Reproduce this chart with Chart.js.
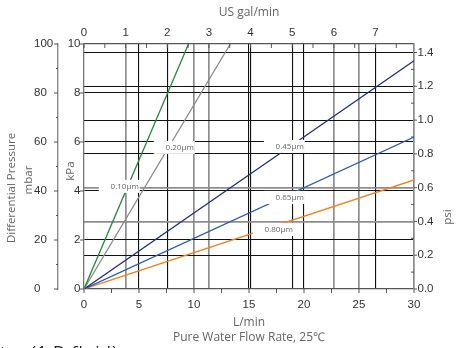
<!DOCTYPE html>
<html>
<head>
<meta charset="utf-8">
<script src="https://cdn.jsdelivr.net/npm/chart.js@4.4.1/dist/chart.umd.min.js"></script>
<style>
  html, body { margin: 0; padding: 0; background: #fff; overflow: hidden; }
  #wrap { position: relative; width: 457px; height: 348px; overflow: hidden; }
  #chart { display: block; }
  #note { position: absolute; left: 0; top: 342px; font: 17px "Open Sans", sans-serif; line-height: 20px; color: #222; white-space: nowrap; letter-spacing: 1px; }
</style>
</head>
<body>
<div id="wrap">
  <canvas id="chart" width="457" height="348"></canvas>
  <div id="note">ter (1 D fluid)</div>
</div>
<script>
  // pressure drop lines: flow in L/min, pressure in mbar
  const filterNames = ["0.10μm", "0.20μm", "0.45μm", "0.65μm", "0.80μm"];
  const endFlow = [9.5, 13.3, 30, 30, 30];
  const endDp = [100, 100, 93.2, 62.0, 44.5];

  const flowTicks = [0, 5, 10, 15, 20, 25, 30];
  const galTicks = [0, 1, 2, 3, 4, 5, 6, 7];
  const mbarTicks = [0, 20, 40, 60, 80, 100];
  const kpaTicks = [0, 2, 4, 6, 8, 10];
  const psiTicks = [0, 0.2, 0.4, 0.6, 0.8, 1.0, 1.2, 1.4];

  const LPM_PER_GAL = 3.78541;
  const PSI_PER_MBAR = 0.0145038;

  const lineColors = ["#23893b", "#8c8c8c", "#1f2d7b", "#2c5db3", "#f5821f"];

  // where each filter label sits (L/min, mbar)
  const labelAt = [[3.7, 41.7], [8.7, 57.6], [18.7, 58.0], [18.7, 37.2], [17.7, 24.1]];

  const sideTitles = [
    { text: "Differential Pressure", x: 12, y: 188 },
    { text: "mbar", x: 29, y: 180 },
    { text: "kPa", x: 71, y: 171 },
    { text: "psi", x: 447.5, y: 217 },
  ];

  const BLACK = "#111";
  const GRAY = "#8e8e8e";
  const NONE = "rgba(0,0,0,0)";
  const flowGrid = { 5: BLACK, 10: GRAY, 15: BLACK, 20: BLACK, 25: GRAY };
  const galGrid = { 1: GRAY, 2: BLACK, 3: GRAY, 4: BLACK, 5: BLACK, 6: GRAY, 7: BLACK };
  const kpaGrid = { 2: BLACK, 4: BLACK, 6: BLACK, 8: BLACK };
  const psiGrid = { "0.2": BLACK, "0.4": GRAY, "0.6": GRAY, "0.8": BLACK, "1.0": BLACK, "1.2": BLACK, "1.4": BLACK };

  const keyOf = (v) => String(v);
  const psiKey = (v) => v.toFixed(1);
  const gridColor = (map, key) => (c) => map[key(c.tick.value)] || NONE;
  const gridWidth = (map, key) => (c) => (map[key(c.tick.value)] === GRAY ? 1.7 : 1.1);
  const useTicks = (list) => (s) => { s.ticks = list.map((v) => ({ value: v })); };

  const tickFont = { family: "'Liberation Sans', Arial, sans-serif", size: 11.5 };
  const tickColor = "#333";
  const titleColor = "#666";

  const extras = {
    id: "extras",
    afterDatasetsDraw(chart) {
      const { ctx, scales } = chart;
      ctx.save();
      ctx.font = "8px 'Open Sans', sans-serif";
      ctx.textAlign = "right";
      ctx.textBaseline = "middle";
      filterNames.forEach((name, i) => {
        const cx = scales.x.getPixelForValue(labelAt[i][0]);
        const cy = scales.y.getPixelForValue(labelAt[i][1]);
        const right = cx + ctx.measureText(name).width / 2;
        ctx.fillStyle = "#fff";
        ctx.fillRect(right - 40, cy - 7, 41, 13);
        ctx.fillStyle = "#666";
        ctx.fillText(name, right, cy);
      });
      ctx.restore();
    },
    afterDraw(chart) {
      const { ctx, chartArea: a, scales } = chart;
      ctx.save();
      ctx.strokeStyle = "#555";
      ctx.lineWidth = 1;
      const seg = (x1, y1, x2, y2) => {
        ctx.beginPath();
        ctx.moveTo(x1, y1);
        ctx.lineTo(x2, y2);
        ctx.stroke();
      };
      for (let i = 0; i <= 10; i++) {
        const y = scales.y.getPixelForValue(i * 10);
        const r = scales.y.right;
        seg(r - (i % 2 ? 2 : 4), y, r, y);
        if (i % 2 === 0) seg(a.left - 4, y, a.left, y);
      }
      for (let i = 0; i <= 14; i++) {
        const y = scales.psi.getPixelForValue(i / 10);
        if (i % 2) seg(a.right - 3, y, a.right, y);
        else seg(a.right, y, a.right + 3, y);
      }
      for (let i = 0; i <= 12; i++) {
        const x = scales.x.getPixelForValue(i * 2.5);
        seg(x, a.bottom, x, a.bottom + 4);
      }
      for (let i = 0; i <= 15; i++) {
        const x = scales.gal.getPixelForValue(i / 2);
        seg(x, a.top, x, a.top + 4);
      }

      ctx.fillStyle = titleColor;
      ctx.font = "11.5px 'Open Sans', sans-serif";
      ctx.textAlign = "center";
      ctx.textBaseline = "middle";
      sideTitles.forEach((t) => {
        ctx.save();
        ctx.translate(t.x, t.y);
        ctx.rotate(-Math.PI / 2);
        ctx.fillText(t.text, 0, 0);
        ctx.restore();
      });
      ctx.restore();
    },
  };

  new Chart(document.getElementById("chart").getContext("2d"), {
    type: "scatter",
    data: {
      datasets: filterNames.map((name, i) => ({
        label: name,
        data: [{ x: 0, y: 0 }, { x: endFlow[i], y: endDp[i] }],
        xAxisID: "x",
        yAxisID: "y",
        showLine: true,
        borderColor: lineColors[i],
        borderWidth: 1.3,
        pointRadius: 0,
        fill: false,
      })),
    },
    options: {
      responsive: false,
      animation: false,
      layout: { padding: { left: 34 } },
      plugins: { legend: { display: false }, tooltip: { enabled: false } },
      scales: {
        x: {
          type: "linear",
          axis: "x",
          position: "bottom",
          min: 0,
          max: 30,
          afterBuildTicks: useTicks(flowTicks),
          afterFit: (s) => { s.height = 59; },
          grid: { color: gridColor(flowGrid, keyOf), lineWidth: gridWidth(flowGrid, keyOf), drawTicks: false },
          border: { color: "#555", width: 1.2 },
          ticks: { font: tickFont, color: tickColor, padding: 8.5, maxRotation: 0, autoSkip: false },
          title: {
            display: true,
            text: ["L/min", "Pure Water Flow Rate, 25℃"],
            color: titleColor,
            font: { family: "'Open Sans', sans-serif", size: 12, lineHeight: 15.5 / 12 },
            padding: { top: 0, bottom: 2.2 },
          },
        },
        gal: {
          type: "linear",
          axis: "x",
          position: "top",
          min: 0,
          max: 30 / LPM_PER_GAL,
          afterBuildTicks: useTicks(galTicks),
          afterFit: (s) => { s.height = 44; },
          grid: { color: gridColor(galGrid, keyOf), lineWidth: gridWidth(galGrid, keyOf), drawTicks: false },
          border: { color: "#555", width: 1.2 },
          ticks: { font: tickFont, color: tickColor, padding: 4.4, maxRotation: 0, autoSkip: false },
          title: {
            display: true,
            text: "US gal/min",
            color: titleColor,
            font: { family: "'Open Sans', sans-serif", size: 12, lineHeight: 16 / 12 },
            padding: { top: 4.5, bottom: 0 },
          },
        },
        y: {
          type: "linear",
          axis: "y",
          position: "left",
          weight: 1,
          min: 0,
          max: 100,
          afterBuildTicks: useTicks(mbarTicks),
          afterFit: (s) => { s.width = 24; },
          grid: { drawOnChartArea: false, drawTicks: false },
          border: { color: "#8a8a8a", width: 1.4 },
          ticks: { font: tickFont, color: tickColor, crossAlign: "far", padding: 0, autoSkip: false },
        },
        kpa: {
          type: "linear",
          axis: "y",
          position: "left",
          weight: 0,
          min: 0,
          max: 10,
          afterBuildTicks: useTicks(kpaTicks),
          afterFit: (s) => { s.width = 26; },
          grid: { color: gridColor(kpaGrid, keyOf), lineWidth: gridWidth(kpaGrid, keyOf), drawTicks: false },
          border: { color: "#777", width: 1.3 },
          ticks: { font: tickFont, color: tickColor, padding: 3.5, autoSkip: false },
        },
        psi: {
          type: "linear",
          axis: "y",
          position: "right",
          min: 0,
          max: 100 * PSI_PER_MBAR,
          afterBuildTicks: useTicks(psiTicks),
          afterFit: (s) => { s.width = 43; },
          grid: { color: gridColor(psiGrid, psiKey), lineWidth: gridWidth(psiGrid, psiKey), drawTicks: false },
          border: { color: "#8a8a8a", width: 1.7 },
          ticks: { font: tickFont, color: tickColor, padding: 3.5, autoSkip: false, callback: (v) => Number(v).toFixed(1) },
        },
      },
    },
    plugins: [extras],
  });
</script>
</body>
</html>
